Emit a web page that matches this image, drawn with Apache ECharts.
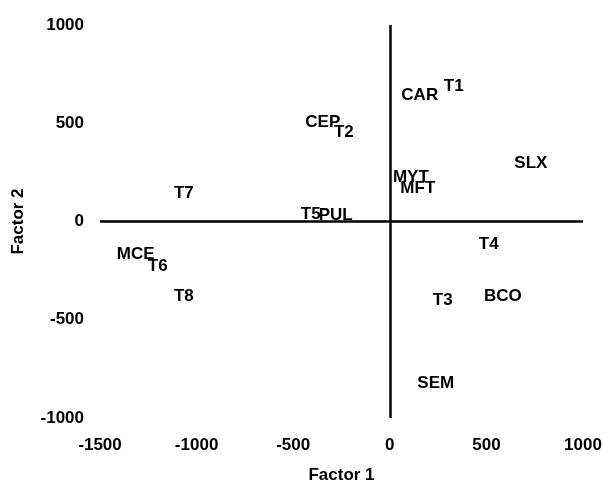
<!DOCTYPE html>
<html>
<head>
<meta charset="utf-8">
<script src="https://cdn.jsdelivr.net/npm/echarts@6/dist/echarts.min.js"></script>
<style>html,body{margin:0;padding:0;background:#fff;}#chart{width:603px;height:481px;}</style>
</head>
<body>
<div id="chart"></div>
<script>
const names   = ['T1','CAR','CEP','T2','MYT','MFT','SLX','T5','PUL','T4','T3','BCO','SEM','T7','MCE','T6','T8'];
const factor1 = [331, 155, -347, -238, 109, 145, 730, -409, -280, 512, 274, 585, 238, -1066, -1315, -1201, -1066];
const factor2 = [690, 640, 503, 452, 223, 168, 294, 36, 30, -117, -401, -381, -822, 142, -168, -228, -381];
const xTicks = [-1500, -1000, -500, 0, 500, 1000];
const yTicks = [-1000, -500, 0, 500, 1000];

const font = 'Liberation Sans, Arial, sans-serif';
const data = names.map((n, i) => ({ name: n, value: [factor1[i], factor2[i]] }));

const chart = echarts.init(document.getElementById('chart'), null, { renderer: 'canvas' });
chart.setOption({
  animation: false,
  backgroundColor: '#fff',
  grid: { left: 100, right: 20, top: 25, bottom: 63, outerBoundsMode: 'none', containLabel: false },
  xAxis: {
    type: 'value', min: xTicks[0], max: xTicks[xTicks.length - 1], interval: 500,
    axisLine: { show: false }, axisTick: { show: false }, splitLine: { show: false },
    axisLabel: { color: '#000', fontWeight: 'bold', fontSize: 17, fontFamily: font, margin: 19,
      formatter: v => String(v) },
    name: 'Factor 1', nameLocation: 'middle', nameGap: 49,
    nameTextStyle: { color: '#000', fontWeight: 'bold', fontSize: 17, fontFamily: font }
  },
  yAxis: {
    type: 'value', min: yTicks[0], max: yTicks[yTicks.length - 1], interval: 500,
    axisLine: { show: false }, axisTick: { show: false }, splitLine: { show: false },
    axisLabel: { color: '#000', fontWeight: 'bold', fontSize: 17, fontFamily: font, margin: 16,
      formatter: v => String(v) },
    name: 'Factor 2', nameLocation: 'middle', nameGap: 73, nameRotate: 90,
    nameTextStyle: { color: '#000', fontWeight: 'bold', fontSize: 17, fontFamily: font }
  },
  series: [{
    type: 'scatter',
    data: data,
    symbolSize: 1,
    itemStyle: { color: 'transparent' },
    label: {
      show: true, position: 'inside', formatter: '{b}', opacity: 1,
      color: '#000', fontWeight: 'bold', fontSize: 17, fontFamily: font,
      textBorderWidth: 0
    },
    emphasis: { disabled: true },
    labelLayout: { hideOverlap: false },
    markLine: {
      silent: true, symbol: ['none', 'none'],
      label: { show: false },
      lineStyle: { color: '#000', width: 2.5, type: 'solid' },
      data: [{ xAxis: 0 }, { yAxis: 0 }]
    }
  }]
});
</script>
</body>
</html>
